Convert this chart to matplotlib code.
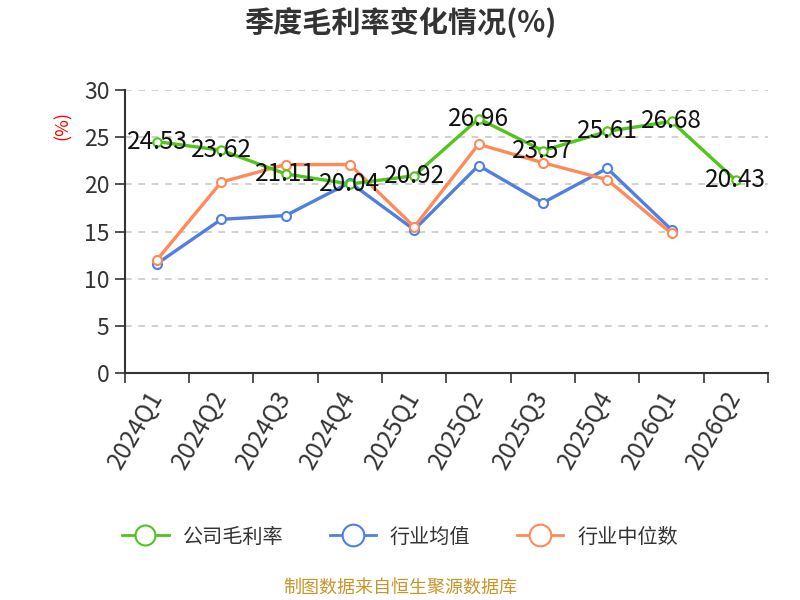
import matplotlib.pyplot as plt
from matplotlib.ticker import FixedLocator

plt.rcParams['font.family'] = ['Noto Sans CJK SC', 'DejaVu Sans']

quarters = ['2024Q1', '2024Q2', '2024Q3', '2024Q4', '2025Q1',
            '2025Q2', '2025Q3', '2025Q4', '2026Q1', '2026Q2']
company = [24.53, 23.62, 21.11, 20.04, 20.92, 26.96, 23.57, 25.61, 26.68, 20.43]
ind_mean = [11.6, 16.3, 16.7, 20.2, 15.2, 22.0, 18.05, 21.7, 15.2]
ind_median = [12.0, 20.25, 22.1, 22.1, 15.5, 24.25, 22.3, 20.5, 14.8]

green = '#52c41a'
blue = '#4f80e1'
orange = '#ff8a58'

fig = plt.figure(figsize=(8, 6), dpi=100)
ax = fig.add_axes([0.156, 0.378, 0.804, 0.472])

x = list(range(len(quarters)))
ax.plot(x[:len(ind_mean)], ind_mean, color=blue, lw=2.4, marker='o', ms=6.5,
        mfc='white', mec=blue, mew=1.5, label='行业均值', zorder=3)
ax.plot(x[:len(ind_median)], ind_median, color=orange, lw=2.4, marker='o', ms=6.5,
        mfc='white', mec=orange, mew=1.5, label='行业中位数', zorder=3)
ax.plot(x, company, color=green, lw=2.4, marker='o', ms=6,
        mfc='white', mec=green, mew=1.5, label='公司毛利率', zorder=4)

for xi, v in zip(x, company):
    ax.text(xi, v, f'{v:.2f}', ha='center', va='center', fontsize=17.5,
            color='#111111', zorder=5)

ax.set_xlim(-0.5, len(quarters) - 0.5)
ax.set_ylim(0, 30)
ax.set_yticks([0, 5, 10, 15, 20, 25, 30])
ax.tick_params(axis='y', labelsize=16.5, colors='#333333', length=7, width=1.2,
               pad=4)
ax.yaxis.grid(True, ls=(0, (4, 4)), color='#c8c8c8', lw=1.2)
ax.set_axisbelow(True)

ax.xaxis.set_major_locator(FixedLocator([i - 0.5 for i in range(len(quarters) + 1)]))
ax.xaxis.set_minor_locator(FixedLocator(x))
ax.set_xticklabels([])
ax.set_xticklabels(quarters, minor=True, rotation=60, ha='right', va='center',
                   rotation_mode='anchor', fontsize=17.5, color='#333333')
ax.tick_params(axis='x', which='major', length=7, width=1.2, color='#333333')
ax.tick_params(axis='x', which='minor', length=0, pad=14)

for s in ['top', 'right']:
    ax.spines[s].set_visible(False)
for s in ['left', 'bottom']:
    ax.spines[s].set_color('#333333')
    ax.spines[s].set_linewidth(1.5)

fig.text(0.078, 0.79, '(%)', color='red', rotation=90, ha='center',
         va='center', fontsize=13)

fig.text(0.5, 0.962, '季度毛利率变化情况(%)', ha='center', va='center',
         fontsize=21, fontweight='bold', color='#333333')

handles, labels = ax.get_legend_handles_labels()
order = [2, 0, 1]
leg = fig.legend([handles[i] for i in order], [labels[i] for i in order],
                 loc='center', bbox_to_anchor=(0.5, 0.105), ncol=3,
                 frameon=False, fontsize=14.5, handlelength=2.3,
                 columnspacing=2.3, handletextpad=0.7, markerscale=2.4)
for h in leg.legend_handles:
    h.set_markeredgewidth(1.5)
    h.set_linewidth(2)
for t in leg.get_texts():
    t.set_color('#333333')

fig.text(0.5, 0.02, '制图数据来自恒生聚源数据库', ha='center', va='center',
         fontsize=13, color='#c8952a')

fig.savefig('out.png', dpi=100)
